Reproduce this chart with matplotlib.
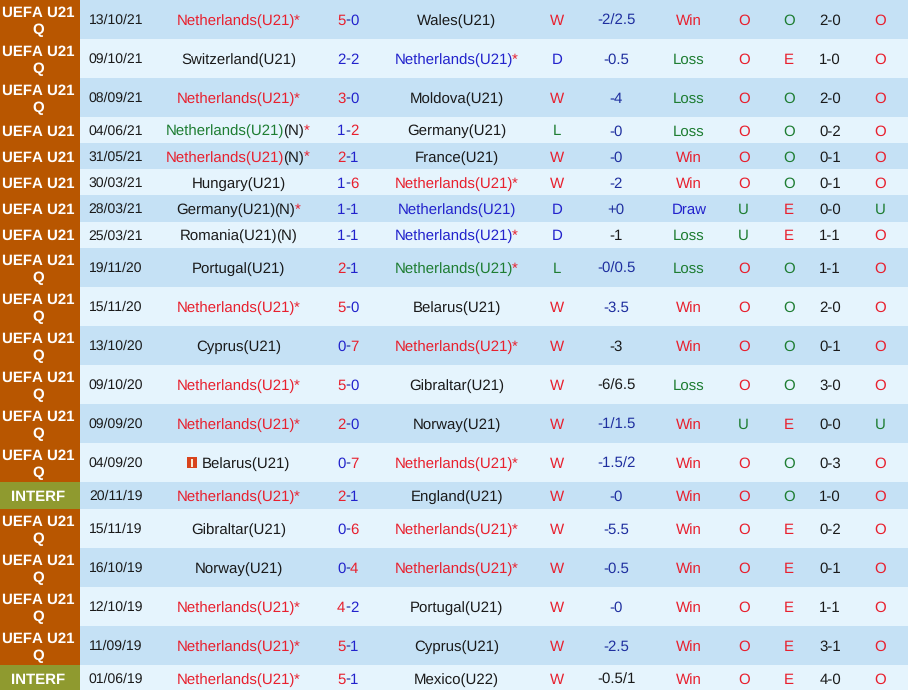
import matplotlib
matplotlib.use("Agg")
import matplotlib.pyplot as plt
from matplotlib.patches import Rectangle

plt.rcParams['font.family'] = ['Liberation Sans', 'DejaVu Sans']
plt.rcParams['text.hinting'] = 'no_hinting'
plt.rcParams['text.hinting_factor'] = 1

leagues = ["UEFA U21 Q", "UEFA U21 Q", "UEFA U21 Q", "UEFA U21", "UEFA U21", "UEFA U21", "UEFA U21",
           "UEFA U21", "UEFA U21 Q", "UEFA U21 Q", "UEFA U21 Q", "UEFA U21 Q", "UEFA U21 Q", "UEFA U21 Q",
           "INTERF", "UEFA U21 Q", "UEFA U21 Q", "UEFA U21 Q", "UEFA U21 Q", "INTERF"]
dates = ["13/10/21", "09/10/21", "08/09/21", "04/06/21", "31/05/21", "30/03/21", "28/03/21",
         "25/03/21", "19/11/20", "15/11/20", "13/10/20", "09/10/20", "09/09/20", "04/09/20",
         "20/11/19", "15/11/19", "16/10/19", "12/10/19", "11/09/19", "01/06/19"]
home = ["Netherlands(U21)*", "Switzerland(U21)", "Netherlands(U21)*", "Netherlands(U21)(N)*",
        "Netherlands(U21)(N)*", "Hungary(U21)", "Germany(U21)(N)*", "Romania(U21)(N)", "Portugal(U21)",
        "Netherlands(U21)*", "Cyprus(U21)", "Netherlands(U21)*", "Netherlands(U21)*", "Belarus(U21)",
        "Netherlands(U21)*", "Gibraltar(U21)", "Norway(U21)", "Netherlands(U21)*", "Netherlands(U21)*",
        "Netherlands(U21)*"]
scores = ["5-0", "2-2", "3-0", "1-2", "2-1", "1-6", "1-1", "1-1", "2-1", "5-0",
          "0-7", "5-0", "2-0", "0-7", "2-1", "0-6", "0-4", "4-2", "5-1", "5-1"]
away = ["Wales(U21)", "Netherlands(U21)*", "Moldova(U21)", "Germany(U21)", "France(U21)",
        "Netherlands(U21)*", "Netherlands(U21)", "Netherlands(U21)*", "Netherlands(U21)*", "Belarus(U21)",
        "Netherlands(U21)*", "Gibraltar(U21)", "Norway(U21)", "Netherlands(U21)*", "England(U21)",
        "Netherlands(U21)*", "Netherlands(U21)*", "Portugal(U21)", "Cyprus(U21)", "Mexico(U22)"]
results = ["W", "D", "W", "L", "W", "W", "D", "D", "L", "W", "W", "W", "W", "W", "W", "W", "W", "W", "W", "W"]
handicap = ["-2/2.5", "-0.5", "-4", "-0", "-0", "-2", "+0", "-1", "-0/0.5", "-3.5",
            "-3", "-6/6.5", "-1/1.5", "-1.5/2", "-0", "-5.5", "-0.5", "-0", "-2.5", "-0.5/1"]
handicap_dark = [7, 10, 11, 19]
bets = ["Win", "Loss", "Loss", "Loss", "Win", "Win", "Draw", "Loss", "Loss", "Win",
        "Win", "Loss", "Win", "Win", "Win", "Win", "Win", "Win", "Win", "Win"]
col_ou = ["O", "O", "O", "O", "O", "O", "U", "U", "O", "O", "O", "O", "U", "O", "O", "O", "O", "O", "O", "O"]
col_oe = ["O", "E", "O", "O", "O", "O", "E", "E", "O", "O", "O", "O", "E", "O", "O", "E", "E", "E", "E", "E"]
half = ["2-0", "1-0", "2-0", "0-2", "0-1", "0-1", "0-0", "1-1", "1-1", "2-0",
        "0-1", "3-0", "0-0", "0-3", "1-0", "0-2", "0-1", "1-1", "3-1", "4-0"]
col_last = ["O", "O", "O", "O", "O", "O", "U", "O", "O", "O", "O", "O", "U", "O", "O", "O", "O", "O", "O", "O"]

RED = "#e8202e"
BLUE = "#2222cc"
GREEN = "#1e7d32"
DARK = "#1a1a1a"
NAVY = "#1f2f9f"
ROW_A = "#c5e1f5"
ROW_B = "#e5f4fd"
ORANGE = "#b85600"
OLIVE = "#8f9a2f"
RESULT_COLOR = {"W": RED, "D": BLUE, "L": GREEN}
BET_COLOR = {"Win": RED, "Loss": GREEN, "Draw": BLUE}
OU_COLOR = {"O": RED, "U": GREEN}
OE_COLOR = {"O": GREEN, "E": RED}
FS = 10.8

fig = plt.figure(figsize=(9.08, 6.9), dpi=100)
ax = fig.add_axes([0, 0, 1, 1])
ax.set_xlim(0, 908)
ax.set_ylim(690, 0)
ax.axis("off")
renderer = fig.canvas.get_renderer()


def cell(x, y, s, color, size=FS, **kw):
    return ax.text(x, y, s, ha="center", va="baseline", color=color, fontsize=size, **kw)


def width_of(s):
    t = ax.text(0, 0, s, fontsize=FS)
    w = t.get_window_extent(renderer).width
    t.remove()
    return w


def advance(s):
    # window extent is ink only, a trailing bar gives the real advance
    if not s:
        return 0
    return width_of(s + "|") - width_of("|")


def draw_parts(xc, y, parts, left=None, pull=1):
    # parts drawn one after the other, centred as a group unless left is given
    whole = "".join(p[0] for p in parts)
    x = round(xc - advance(whole) / 2) if left is None else left
    done = ""
    for s, c in parts:
        # agg snaps text to whole pixels, pull back so gaps stay even
        ax.text(x + int(advance(done)) - (pull if done else 0), y, s, ha="left", va="baseline", color=c, fontsize=FS)
        done += s


def team_parts(name, res):
    base = RESULT_COLOR[res] if name.startswith("Netherlands") else DARK
    cut = name.index(")") + 1
    parts = [(name[:cut], base)]
    rest = name[cut:]
    if rest.startswith("(N)"):
        parts.append(("(N)", DARK))
        rest = rest[3:]
    if rest:
        parts.append((rest, RED))
    return parts


def score_parts(score):
    a, b = score.split("-")
    ca = RED if int(a) > int(b) else BLUE
    cb = RED if int(b) > int(a) else BLUE
    return [(a, ca), ("-", NAVY), (b, cb)]


top = 0
for i in range(len(dates)):
    if leagues[i].endswith("Q"):
        h = 39
    elif leagues[i] == "INTERF":
        h = 27
    else:
        h = 26.15
    y = top + h / 2
    base = y + 5.3
    ax.add_patch(Rectangle((80, top), 828, h, color=ROW_A if i % 2 == 0 else ROW_B, lw=0))
    ax.add_patch(Rectangle((0, top), 80, h, color=OLIVE if leagues[i] == "INTERF" else ORANGE, lw=0))
    if leagues[i].endswith("Q"):
        cell(38.5, y - 2.8, leagues[i][:-2], "white", size=10.6, fontweight="bold")
        cell(38.5, y + 14.5, "Q", "white", size=10.6, fontweight="bold")
    else:
        cell(38.5, base, leagues[i], "white", size=10.6, fontweight="bold")
    cell(115.7, base - 0.5, dates[i], DARK, size=10)
    if home[i] == "Belarus(U21)":
        ax.add_patch(Rectangle((187, y - 5.5), 10, 11, color="#d8431c", lw=0))
        ax.add_patch(Rectangle((190.7, y - 3.5), 2, 8, color="#f7ead2", lw=0))
        draw_parts(0, base, team_parts(home[i], results[i]), left=202)
    else:
        draw_parts(238.7, base, team_parts(home[i], results[i]))
    draw_parts(347.7, base, score_parts(scores[i]), pull=0)
    draw_parts(457, base, team_parts(away[i], results[i]))
    cell(557, base, results[i], RESULT_COLOR[results[i]])
    cell(616.3, base, handicap[i], DARK if i in handicap_dark else NAVY)
    cell(689, base, bets[i], BET_COLOR[bets[i]])
    cell(743.7, base, col_ou[i], OU_COLOR[col_ou[i]])
    cell(789, base, col_oe[i], OE_COLOR[col_oe[i]])
    cell(830, base, half[i], DARK)
    cell(880, base, col_last[i], OU_COLOR[col_last[i]])
    top += h

fig.savefig("out.png", dpi=100)
